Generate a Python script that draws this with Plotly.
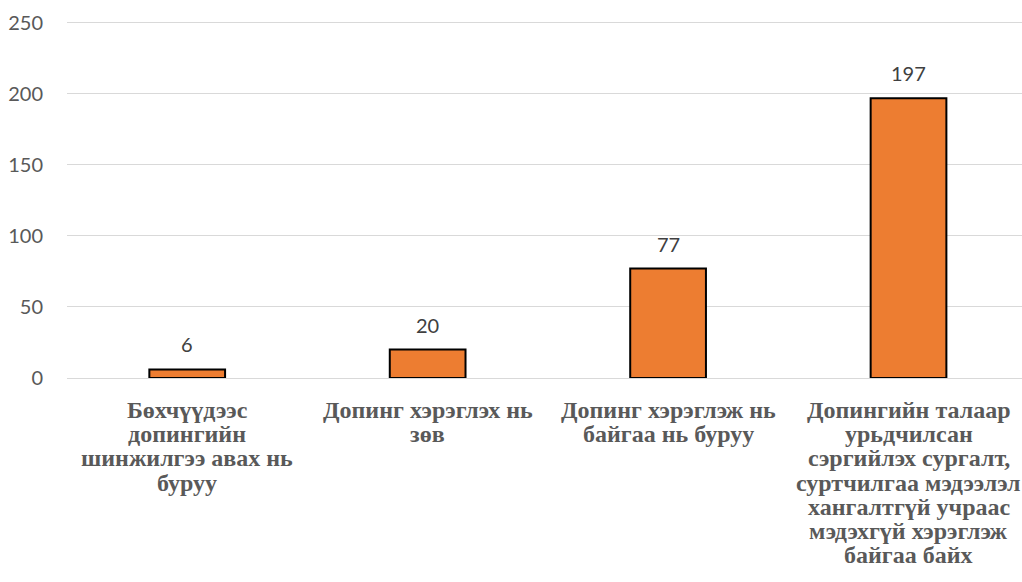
import plotly.graph_objects as go

category_lines = [
    ["Бөхчүүдээс", "допингийн", "шинжилгээ авах нь", "буруу"],
    ["Допинг хэрэглэх нь", "зөв"],
    ["Допинг хэрэглэж нь", "байгаа нь буруу"],
    ["Допингийн талаар", "урьдчилсан", "сэргийлэх сургалт,", "суртчилгаа мэдээлэл",
     "хангалтгүй учраас", "мэдэхгүй хэрэглэж", "байгаа байх"],
]
values = [6, 20, 77, 197]
y_ticks = [0, 50, 100, 150, 200, 250]

x_idx = list(range(len(values)))

fig = go.Figure()
fig.add_trace(go.Bar(
    x=x_idx, y=values, width=0.315,
    marker=dict(color="#ED7D31", line=dict(color="#000000", width=2)),
    hoverinfo="skip",
))

num_font = dict(family="Lato, Open Sans, sans-serif", size=20, color="#404040")

for i, v in zip(x_idx, values):
    fig.add_annotation(x=i, y=v, text=str(v), showarrow=False, yanchor="middle",
                       yshift=25, font=num_font)

for i, lines in zip(x_idx, category_lines):
    for j, line in enumerate(lines):
        fig.add_annotation(x=i, xref="x", y=0, yref="paper", text="<b>%s</b>" % line,
                           showarrow=False, yanchor="middle", xanchor="center",
                           yshift=-32 - 24.2 * j,
                           font=dict(family="Liberation Serif, Times New Roman, serif",
                                     size=24, color="#595959"))

fig.update_layout(
    width=1022, height=582,
    margin=dict(l=67, r=0, t=20, b=204),
    plot_bgcolor="white", paper_bgcolor="white",
    showlegend=False,
    xaxis=dict(
        range=[-0.5, 3.472], showgrid=False, zeroline=False, showline=False,
        showticklabels=False, automargin=False,
    ),
    yaxis=dict(
        range=[0, 252], tickvals=y_ticks, showgrid=True, gridcolor="#D9D9D9", gridwidth=1.3,
        zeroline=True, zerolinecolor="#D9D9D9", zerolinewidth=1.3, showline=False,
        ticklabelstandoff=23, automargin=False,
        tickfont=dict(family="Lato, Open Sans, sans-serif", size=20, color="#595959"),
    ),
)

fig.write_html("out.html", config={"displayModeBar": False},
               post_script="document.body.style.margin='0';document.body.style.overflow='hidden';")
